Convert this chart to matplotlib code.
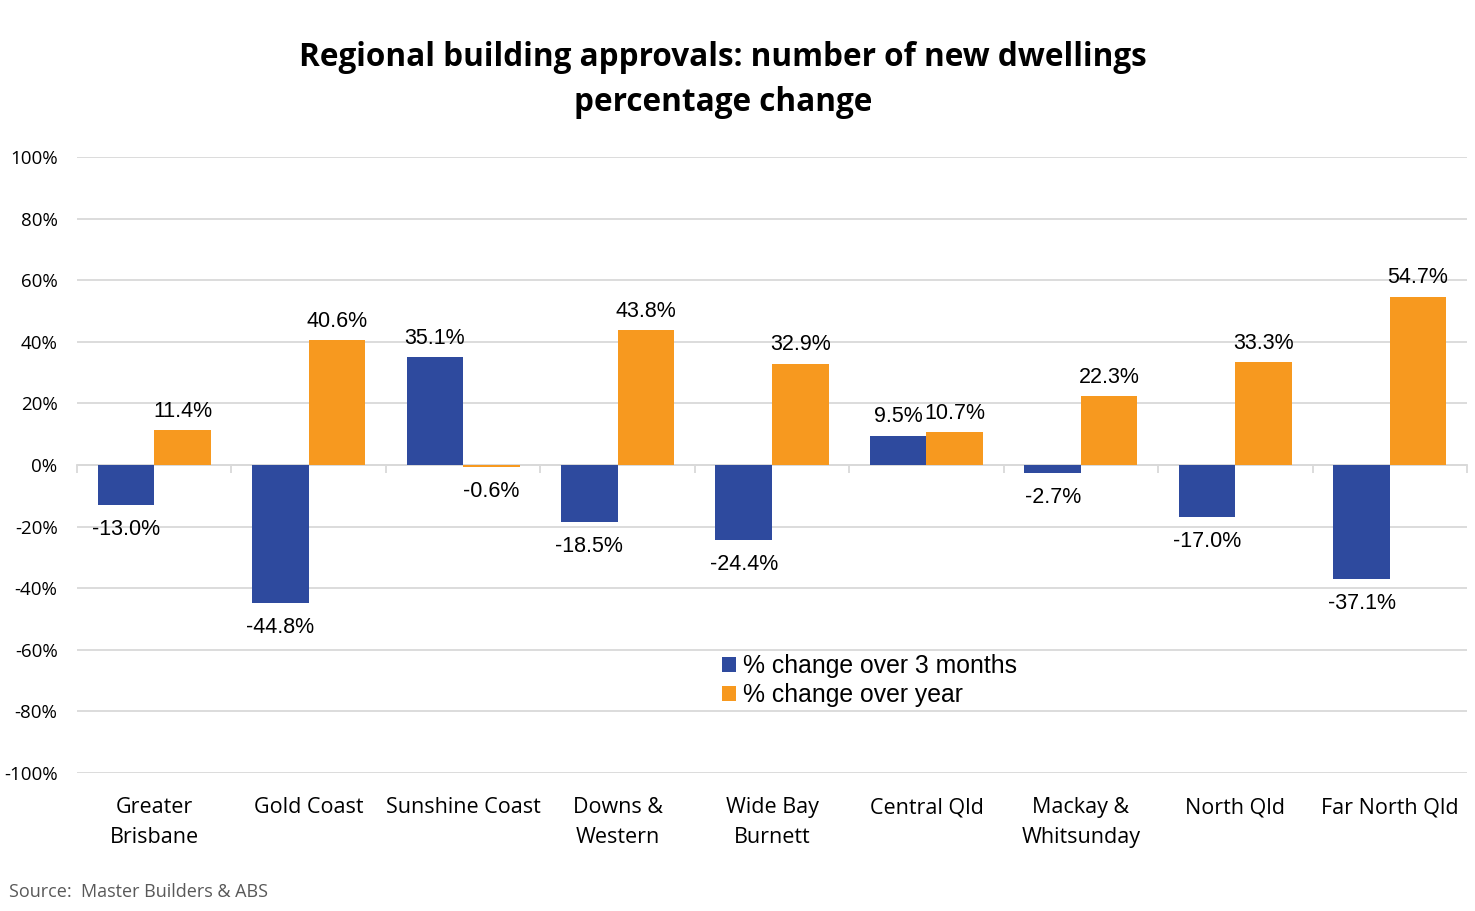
import numpy as np
import matplotlib
matplotlib.use('Agg')
import matplotlib.pyplot as plt
from matplotlib.transforms import blended_transform_factory

# data
regions = ['Greater\nBrisbane', 'Gold Coast', 'Sunshine Coast', 'Downs &\nWestern',
           'Wide Bay\nBurnett', 'Central Qld', 'Mackay &\nWhitsunday', 'North Qld',
           'Far North Qld']
change_3m = [-13.0, -44.8, 35.1, -18.5, -24.4, 9.5, -2.7, -17.0, -37.1]
change_yr = [11.4, 40.6, -0.6, 43.8, 32.9, 10.7, 22.3, 33.3, 54.7]
yticks = [-100, -80, -60, -40, -20, 0, 20, 40, 60, 80, 100]

BLUE = '#2E4A9E'
ORANGE = '#F7991F'
GRID = '#D9D9D9'
UI_FONT = 'Open Sans'
LBL_FONT = 'Liberation Sans'

fig = plt.figure(figsize=(14.75, 9.11), dpi=100)
ax = fig.add_axes([77/1475, 1 - 773/911, (1467-77)/1475, (773-157)/911])

x = np.arange(len(regions))
w = 0.366
b1 = ax.bar(x - w/2, change_3m, w, color=BLUE, label='% change over 3 months', zorder=3)
b2 = ax.bar(x + w/2, change_yr, w, color=ORANGE, label='% change over year', zorder=3)

ax.set_xlim(-0.5, len(regions) - 0.5)
ax.set_ylim(-100, 100)
ax.set_yticks(yticks)
ax.set_yticklabels([f'{v}%' for v in yticks], fontfamily=UI_FONT, fontsize=13.5)
ax.tick_params(axis='y', length=0, pad=14)
ax.yaxis.grid(True, color=GRID, linewidth=1.3, zorder=0)
ax.set_axisbelow(True)
for s in ['top', 'right', 'left']:
    ax.spines[s].set_visible(False)

# zero line with boundary tick marks
ax.spines['bottom'].set_position(('data', 0))
ax.spines['bottom'].set_color(GRID)
ax.spines['bottom'].set_linewidth(1.3)
ax.set_xticks(np.arange(-0.5, len(regions), 1.0))
ax.set_xticklabels([])
ax.tick_params(axis='x', length=6, color=GRID, width=1.3, direction='out')

# category labels under the plot
trans = blended_transform_factory(ax.transData, ax.transAxes)
for xi, name in zip(x, regions):
    ax.text(xi, -0.039, name, transform=trans, ha='center', va='top',
            fontfamily=UI_FONT, fontsize=15.5, linespacing=1.55)

# data labels
for bars, vals in [(b1, change_3m), (b2, change_yr)]:
    for rect, v in zip(bars, vals):
        cx = rect.get_x() + rect.get_width()/2
        if v >= 0:
            ax.annotate(f'{v:.1f}%', (cx, v), xytext=(0, 6), textcoords='offset points',
                        ha='center', va='bottom', fontfamily=LBL_FONT, fontsize=15.5)
        else:
            ax.annotate(f'{v:.1f}%', (cx, v), xytext=(0, -10), textcoords='offset points',
                        ha='center', va='top', fontfamily=LBL_FONT, fontsize=15.5)

fig.text(723/1475, 1 - 80/911,
         'Regional building approvals: number of new dwellings\npercentage change',
         ha='center', va='center', fontfamily=UI_FONT, fontweight='bold',
         fontsize=22.7, linespacing=1.45)

fig.legend(handles=[b1, b2], loc='upper left', bbox_to_anchor=(722/1475, 1 - 654/911),
           frameon=False, prop={'family': LBL_FONT, 'size': 17.8},
           handlelength=0.55, handleheight=0.55, handletextpad=0.3,
           labelspacing=0.2, borderaxespad=0, borderpad=0)

fig.text(9/1475, 1 - 892/911, 'Source:  Master Builders & ABS', ha='left', va='center',
         fontfamily=UI_FONT, fontsize=13, color='#595959')

fig.savefig('out.png', dpi=100)
